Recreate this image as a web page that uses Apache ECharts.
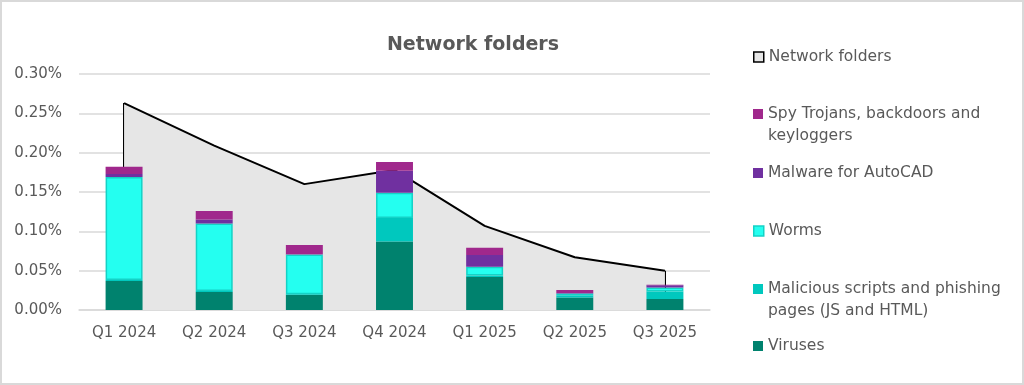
<!DOCTYPE html>
<html>
<head>
<meta charset="utf-8">
<script src="https://cdn.jsdelivr.net/npm/echarts@6/dist/echarts.min.js"></script>
<style>
html,body{margin:0;padding:0;background:#fff;}
#chart{width:1024px;height:385px;box-sizing:border-box;border:2px solid #D9D9D9;}
</style>
</head>
<body>
<div id="chart"></div>
<script>
const categories = ['Q1 2024','Q2 2024','Q3 2024','Q4 2024','Q1 2025','Q2 2025','Q3 2025'];
const networkFolders = [0.263, 0.209, 0.160, 0.178, 0.107, 0.067, 0.050];
const viruses = [0.037, 0.023, 0.019, 0.087, 0.042, 0.016, 0.014];
const scripts = [0.001, 0.001, 0.001, 0.030, 0.002, 0.002, 0.0095];
const worms = [0.131, 0.086, 0.0505, 0.032, 0.011, 0.003, 0.005];
const autocad = [0.004, 0.005, 0.0005, 0.028, 0.015, 0.0005, 0.003];
const spy = [0.009, 0.011, 0.0115, 0.011, 0.009, 0.004, 0.0005];

const FONT = 'DejaVu Sans';
const TXT = '#595959';

const chart = echarts.init(document.getElementById('chart'), null, {renderer:'canvas'});

const ICON1 = 'path://M0,0h10v10h-10z';
const ICON2 = 'path://M0,0h10v10h-10z M0,32';

function legendAt(name, centerY, twoLines, text, itemStyle){
  return {
    data:[name], left: 751, top: centerY - 11, padding: 0,
    itemWidth: 10, itemHeight: twoLines ? 32 : 10, itemGap: 0, selectedMode:false,
    icon: twoLines ? ICON2 : ICON1,
    itemStyle: itemStyle || {borderWidth:0},
    formatter: text ? (()=>text) : undefined,
    textStyle: {color: TXT, fontFamily: FONT, fontSize: 15.5, lineHeight: 22}
  };
}

const barBase = {type:'bar', stack:'s', barWidth:'41%', z:3};

const option = {
  animation:false,
  title:{text:'Network folders', left: 466, top: 29, textAlign:'center',
    textStyle:{color:TXT, fontFamily:FONT, fontSize:19, fontWeight:'bold'}},
  grid:{left:77, right:312, top:72, bottom:73, containLabel:false},
  legend:[
    legendAt('Network folders', 55, false, null, {color:'#E6E6E6', borderColor:'#000', borderWidth:1.5}),
    legendAt('Spy Trojans, backdoors and keyloggers', 112, true, 'Spy Trojans, backdoors and\nkeyloggers'),
    legendAt('Malware for AutoCAD', 171, false),
    legendAt('Worms', 229, false, null, {borderColor:'#14D2C6', borderWidth:1.5}),
    legendAt('Malicious scripts and phishing pages (JS and HTML)', 287, true, 'Malicious scripts and phishing\npages (JS and HTML)'),
    legendAt('Viruses', 344, false)
  ],
  xAxis:{type:'category', data:categories,
    axisLine:{lineStyle:{color:'#D9D9D9', width:1.5}}, axisTick:{show:false},
    axisLabel:{color:TXT, fontFamily:FONT, fontSize:15, margin:16}},
  yAxis:{type:'value', min:0, max:0.3, interval:0.05,
    axisLabel:{color:TXT, fontFamily:FONT, fontSize:15, margin:17, formatter:(v)=>v.toFixed(2)+'%'},
    splitLine:{lineStyle:{color:'#D9D9D9', width:1.5}}, axisLine:{show:false}, axisTick:{show:false}},
  series:[
    {name:'Network folders', type:'line', data:networkFolders, z:1, symbol:'none',
      lineStyle:{color:'#000', width:2}, itemStyle:{color:'#E6E6E6', borderColor:'#000', borderWidth:1.5},
      areaStyle:{color:'#E6E6E6', opacity:1},
      markLine:{silent:true, z:1, symbol:['none','none'], label:{show:false}, lineStyle:{color:'#000', width:2, type:'solid'},
        data:[
          [{coord:[categories[0], 0]}, {coord:[categories[0], networkFolders[0]]}],
          [{coord:[categories[6], 0]}, {coord:[categories[6], networkFolders[6]]}]
        ]}},
    Object.assign({name:'Viruses', data:viruses, itemStyle:{color:'#00826E'}}, barBase),
    Object.assign({name:'Malicious scripts and phishing pages (JS and HTML)', data:scripts, itemStyle:{color:'#00C8BE'}}, barBase),
    Object.assign({name:'Worms', data:worms, itemStyle:{color:'#24FFF0', borderColor:'#14D2C6', borderWidth:1.5}}, barBase),
    Object.assign({name:'Malware for AutoCAD', data:autocad, itemStyle:{color:'#7030A0'}}, barBase),
    Object.assign({name:'Spy Trojans, backdoors and keyloggers', data:spy, itemStyle:{color:'#A0288C'}}, barBase)
  ]
};
chart.setOption(option);
</script>
</body>
</html>
